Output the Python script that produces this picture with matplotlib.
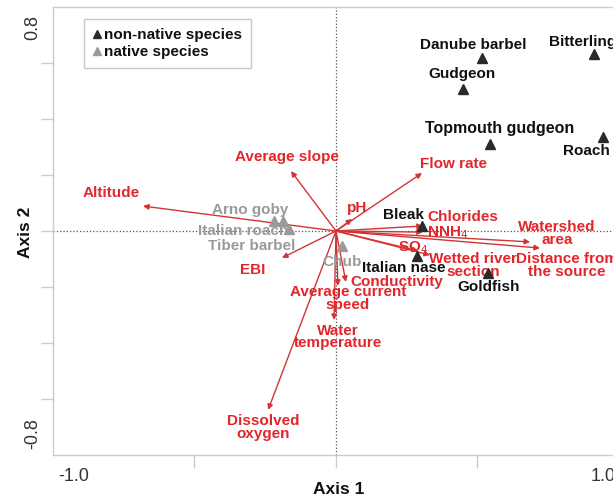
import matplotlib
matplotlib.use("Agg")
import matplotlib.pyplot as plt

plt.rcParams['font.family'] = ['Liberation Sans', 'DejaVu Sans']

# species scores
species = ['Danube barbel', 'Bitterling', 'Gudgeon', 'Topmouth gudgeon', 'Roach',
           'Bleak', 'Italian nase', 'Goldfish',
           'Arno goby', 'Italian roach', 'Tiber barbel', 'Chub']
sp_x = [0.516, 0.912, 0.449, 0.544, 0.943, 0.304, 0.286, 0.537,
        -0.187, -0.219, -0.166, 0.021]
sp_y = [0.618, 0.632, 0.507, 0.311, 0.336, 0.018, -0.089, -0.150,
        0.036, 0.036, 0.007, -0.054]
native = [False] * 8 + [True] * 4

# environmental variables (arrow tips)
env = ['Altitude', 'Average slope', 'Flow rate', 'pH', 'Chlorides', 'NNH$_4$',
       'SO$_4$', 'Wetted river\nsection', 'Watershed\narea',
       'Distance from\nthe source', 'Conductivity', 'Average current\nspeed',
       'Water\ntemperature', 'Dissolved\noxygen', 'EBI']
env_x = [-0.682, -0.159, 0.304, 0.057, 0.307, 0.307, 0.290, 0.332, 0.686,
         0.721, 0.035, 0.007, -0.007, -0.240, -0.191]
env_y = [0.089, 0.214, 0.207, 0.043, 0.018, -0.004, -0.071, -0.086, -0.039,
         -0.061, -0.182, -0.196, -0.318, -0.639, -0.096]

# label offsets in pixels (x right, y down)
sp_off = [(-9, -13), (-12, -12), (-1, -15), (10, -15), (-16, 14),
          (-19, -11), (-13, 12), (1, 14),
          (-33, -11), (-31, 10), (-37, 17), (0, 16)]
env_off = [(-32, -13), (-4, -14), (31, -9), (5, -11), (40, -9), (25, 1),
           (-5, -3), (43, 10), (27, -8), (27, 17), (51, 0), (10, 13),
           (4, 17), (-5, 18), (-29, 12)]

RED_TXT = '#e2262b'
RED_ARR = '#d23434'
DARK = '#2a2a2a'
GREY = '#9a9a9a'

fig = plt.figure(figsize=(6.13, 5.01), dpi=100)
ax = fig.add_axes([53 / 613, 46 / 501, 566 / 613, 448 / 501])
ax.set_xlim(-1.0, 1.0)
ax.set_ylim(-0.8, 0.8)

for s in ax.spines.values():
    s.set_color('#cccccc')
    s.set_linewidth(1)

ax.axhline(0, color='#555555', ls=':', lw=0.9, zorder=1)
ax.axvline(0, color='#555555', ls=':', lw=0.9, zorder=1)

ax.set_xticks([-0.5, 0, 0.5])
ax.set_yticks([-0.6, -0.4, -0.2, 0, 0.2, 0.4, 0.6])
ax.set_xticklabels([])
ax.set_yticklabels([])
ax.tick_params(axis='both', color='#cccccc', length=9, width=1)

tick_kw = dict(textcoords='offset pixels', fontsize=13, color='#333333')
ax.annotate('-1.0', xy=(-1.0, 0), xycoords=('data', 'axes fraction'),
            xytext=(5, -13), ha='left', va='top', **tick_kw)
ax.annotate('1.0', xy=(1.0, 0), xycoords=('data', 'axes fraction'),
            xytext=(-3, -13), ha='right', va='top', **tick_kw)
ax.annotate('0.8', xy=(0, 0.8), xycoords=('axes fraction', 'data'),
            xytext=(-20, -8), ha='center', va='top', rotation=90, **tick_kw)
ax.annotate('-0.8', xy=(0, -0.8), xycoords=('axes fraction', 'data'),
            xytext=(-20, 6), ha='center', va='bottom', rotation=90, **tick_kw)

fig.text(339 / 613, 1 - 489 / 501, 'Axis 1', ha='center', va='center',
         fontsize=12.5, fontweight='bold', color='#111111')
fig.text(25 / 613, 1 - 232 / 501, 'Axis 2', ha='center', va='center',
         rotation=90, fontsize=12.5, fontweight='bold', color='#111111')

# arrows
for name, ex, ey, (ox, oy) in zip(env, env_x, env_y, env_off):
    ax.annotate('', xy=(ex, ey), xytext=(0, 0),
                arrowprops=dict(arrowstyle='-|>', color=RED_ARR, lw=1,
                                mutation_scale=8, shrinkA=0, shrinkB=0),
                zorder=3)
    ax.annotate(name, xy=(ex, ey), xytext=(ox, -oy), textcoords='offset pixels',
                ha='center', va='center', fontsize=11, fontweight='bold',
                color=RED_TXT, linespacing=0.9, zorder=4)

# species
for name, x, y, nat, (ox, oy) in zip(species, sp_x, sp_y, native, sp_off):
    c = GREY if nat else DARK
    ax.plot(x, y, marker='^', ms=6.5, color=c, ls='none', zorder=5)
    fs = 11.5 if name == 'Topmouth gudgeon' else 11
    ax.annotate(name, xy=(x, y), xytext=(ox, -oy), textcoords='offset pixels',
                ha='center', va='center', fontsize=fs, fontweight='bold',
                color=GREY if nat else '#111111', zorder=6)

# legend
ax.plot([], [], marker='^', ms=5.5, color=DARK, ls='none', label='non-native species')
ax.plot([], [], marker='^', ms=5.5, color=GREY, ls='none', label='native species')
leg = ax.legend(loc='upper left', bbox_to_anchor=(31 / 566, 1 - 12 / 448),
                frameon=True, fancybox=False, handlelength=0.5, handletextpad=0.2,
                borderpad=0.6, borderaxespad=0, labelspacing=0.2,
                prop=dict(size=11, weight='bold'))
leg.get_frame().set_edgecolor('#bbbbbb')
leg.get_frame().set_linewidth(1)
for t in leg.get_texts():
    t.set_color('#111111')

fig.savefig('out.png', dpi=100)
